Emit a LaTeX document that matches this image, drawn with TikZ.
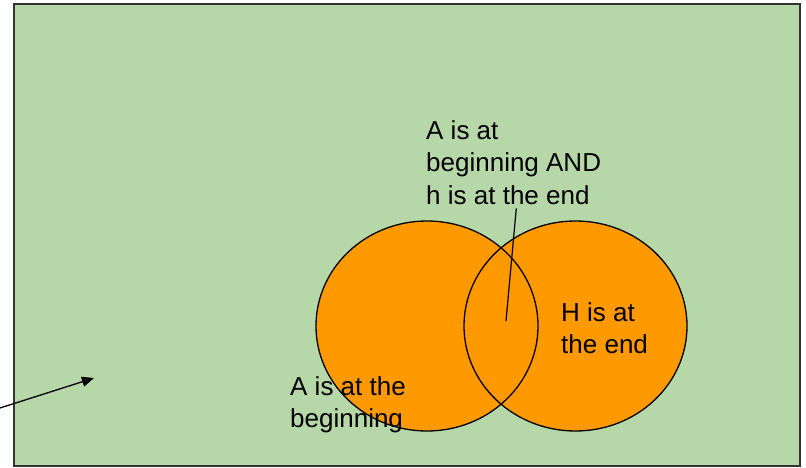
\documentclass[tikz,border=0pt]{standalone}
\usepackage{fontspec}
\setmainfont{Liberation Sans}
\usetikzlibrary{arrows.meta}
\definecolor{sheetgreen}{HTML}{B6D7A8}
\definecolor{vennorange}{HTML}{FF9900}

\begin{document}
\begin{tikzpicture}[x=1pt,y=-1pt,
  lbl/.style={align=left,inner sep=0pt,anchor=north west,font=\fontsize{26}{32.5}\selectfont}]
\useasboundingbox (0,0) rectangle (806,468);
\draw[fill=sheetgreen,draw=black!80,line width=1.2pt] (14,4) rectangle (800,466);
% the two sets
\fill[vennorange] (427,326) ellipse [x radius=111,y radius=105];
\fill[vennorange] (575.5,326) ellipse [x radius=111.5,y radius=105];
\draw[line width=1.3pt] (427,326) ellipse [x radius=111,y radius=105];
\draw[line width=1.3pt] (575.5,326) ellipse [x radius=111.5,y radius=105];
% labels
\node[lbl] (both) at (426,120) {A is at\\beginning AND\\h is at the end};
\node[lbl] (hend) at (561,302) {H is at\\the end};
\node[lbl] (abeg) at (290,376) {A is at the\\beginning};
\coordinate (mid) at (506,321);
\draw[line width=1.2pt,shorten <=4pt] ([xshift=3pt]both.south) -- (mid);
\coordinate (tail) at (0,408);
\coordinate (point) at (94,378);
\draw[line width=1.3pt,-{Triangle[length=12pt,width=10pt]}] (tail) -- (point);
\end{tikzpicture}
\end{document}
